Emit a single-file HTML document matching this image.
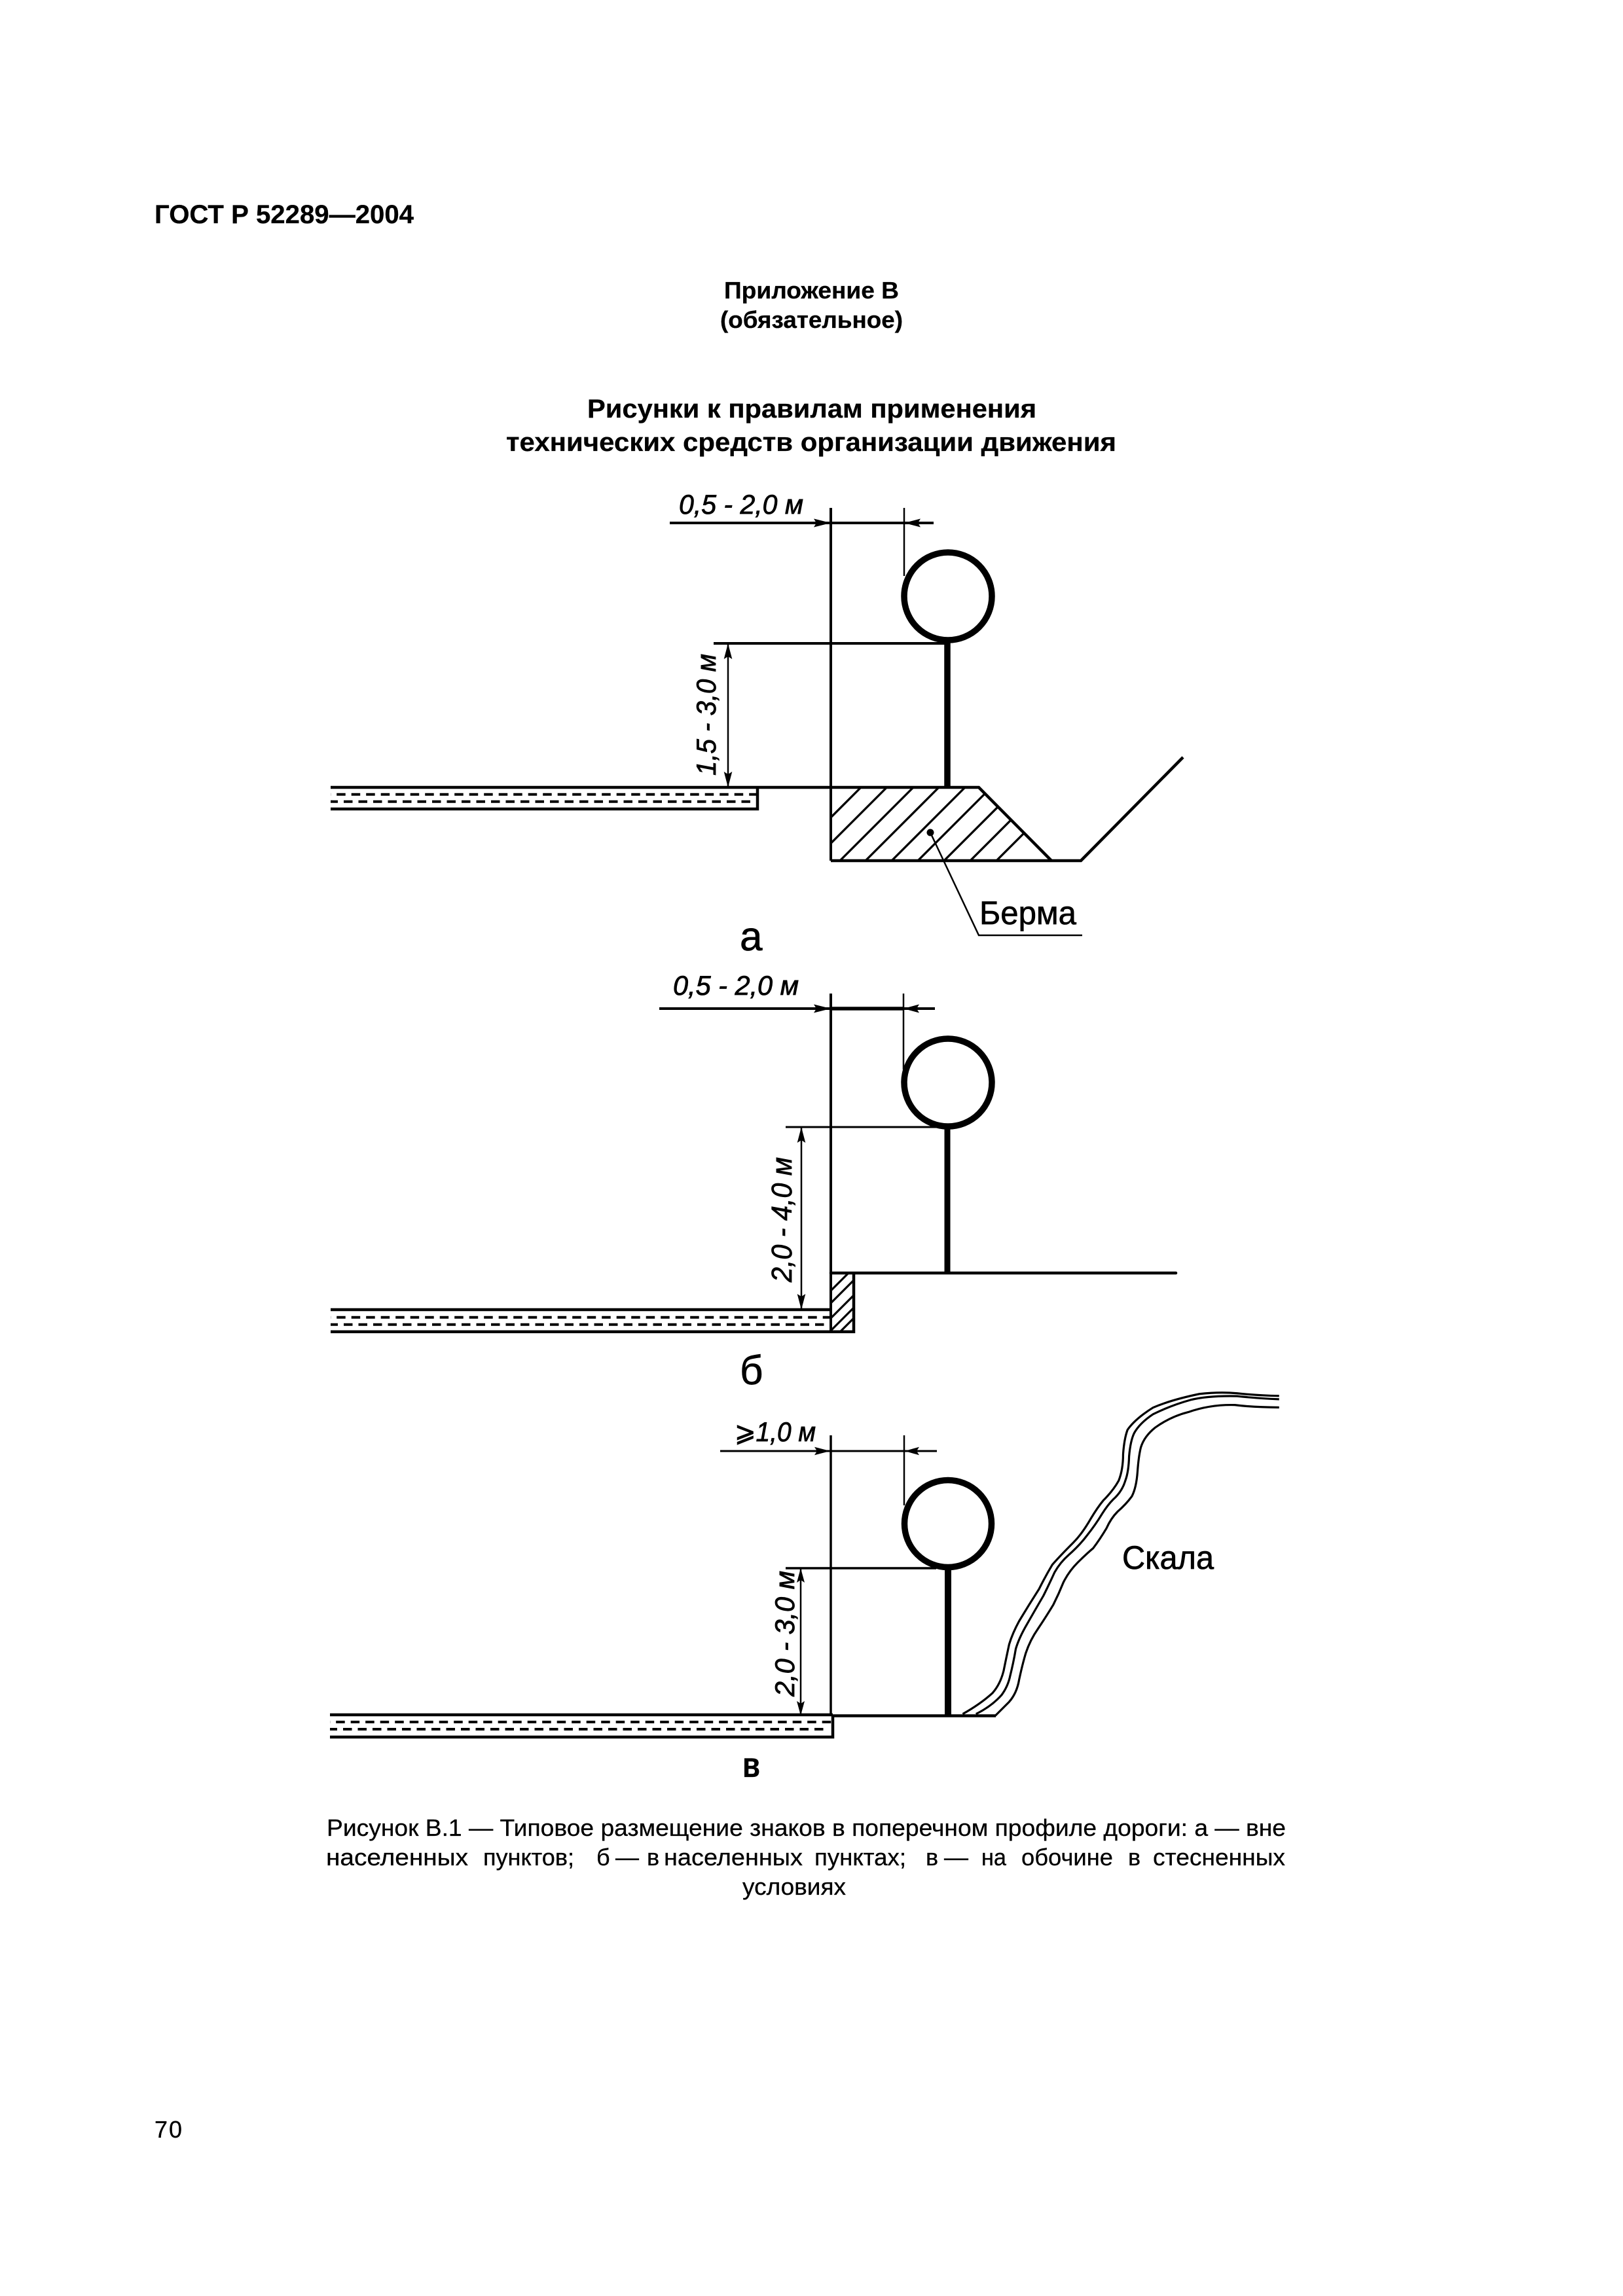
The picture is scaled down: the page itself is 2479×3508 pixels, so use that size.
<!DOCTYPE html>
<html lang="ru">
<head>
<meta charset="utf-8">
<title>ГОСТ Р 52289—2004</title>
<style>
html,body{margin:0;padding:0;background:#fff;}
svg{display:block;}
text{font-family:"Liberation Sans","DejaVu Sans",sans-serif;fill:#000;stroke:#000;stroke-width:.3px;}
.b{font-weight:bold;}
.i{font-style:italic;font-size:42px;stroke-width:.8px;}
.l{stroke-width:.7px;}
.n{font-size:36px;}
</style>
</head>
<body>
<svg width="2479" height="3508" viewBox="0 0 2479 3508" xmlns="http://www.w3.org/2000/svg">
<defs>
<clipPath id="berm"><polygon points="1269,1203 1495,1203 1606,1315 1269,1315"/></clipPath>
<clipPath id="curb"><rect x="1269" y="1945" width="33" height="90"/></clipPath>
</defs>
<rect width="2479" height="3508" fill="#fff"/>

<!-- Header text -->
<text class="b" x="236" y="341" font-size="40" textLength="396" lengthAdjust="spacingAndGlyphs">ГОСТ Р 52289—2004</text>
<text class="b" x="1106" y="456" font-size="36" textLength="267" lengthAdjust="spacingAndGlyphs">Приложение В</text>
<text class="b" x="1100" y="501" font-size="36" textLength="279" lengthAdjust="spacingAndGlyphs">(обязательное)</text>
<text class="b" x="897" y="638" font-size="40" textLength="686" lengthAdjust="spacingAndGlyphs">Рисунки к правилам применения</text>
<text class="b" x="773" y="689" font-size="40" textLength="932" lengthAdjust="spacingAndGlyphs">технических средств организации движения</text>

<!-- Diagram a -->
<g stroke="#000" fill="none">
  <path d="M1269 776V1315" stroke-width="4"/>
  <path d="M1381 776V880" stroke-width="2.5"/>
  <path d="M1023 799H1426" stroke-width="4"/>
  <circle cx="1448" cy="911" r="67" stroke-width="9.5"/>
  <path d="M1447 980V1203" stroke-width="9.5"/>
  <path d="M1090 983H1447" stroke-width="4"/>
  <path d="M1112 983V1203" stroke-width="2.5"/>
  <path d="M505 1203H1495L1606 1315" stroke-width="4.5"/>
  <path d="M505 1236H1157V1203" stroke-width="4.5"/>
  <path d="M505 1213.7H1155" stroke-width="4" stroke-dasharray="13.5 9" stroke-dashoffset="13.3"/>
  <path d="M505 1224.7H1148" stroke-width="4" stroke-dasharray="13.5 9" stroke-dashoffset="2.5"/>
  <path d="M1269 1315H1651L1807 1157" stroke-width="4.5"/>
  <g clip-path="url(#berm)" stroke-width="3.3">
    <path d="M1315 1203L1171 1347M1354.5 1203L1210.5 1347M1395 1203L1251 1347M1434 1203L1290 1347M1474 1203L1330 1347M1514 1203L1370 1347M1554 1203L1410 1347M1594 1203L1450 1347M1634 1203L1490 1347"/>
  </g>
  <path d="M1421 1272L1495 1429H1653" stroke-width="2.5"/>
</g>
<circle cx="1421" cy="1272" r="5.5" fill="#000"/>
<path d="M1269 799l-26-6.5 4 6.5-4 6.5zM1381 799l25-6.5-4 6.5 4 6.5zM1112 983l-6.3 24 6.3-4 6.3 4zM1112 1203l-6.3-24 6.3 4 6.3-4z" fill="#000"/>
<text class="i" x="1037" y="785" textLength="190" lengthAdjust="spacingAndGlyphs">0,5 - 2,0 м</text>
<text class="i" transform="translate(1093 1185) rotate(-90)" textLength="186" lengthAdjust="spacingAndGlyphs">1,5 - 3,0 м</text>
<text class="l" x="1496" y="1412" font-size="50" textLength="148" lengthAdjust="spacingAndGlyphs">Берма</text>
<text class="l" x="1130" y="1452" font-size="62">а</text>

<!-- Diagram б -->
<g stroke="#000" fill="none">
  <path d="M1269 1518V2035" stroke-width="4"/>
  <path d="M1380 1518V1634" stroke-width="2.5"/>
  <path d="M1007 1541H1428" stroke-width="4"/>
  <path d="M1269 1541H1380" stroke-width="5.5"/>
  <circle cx="1448" cy="1654" r="67" stroke-width="9.5"/>
  <path d="M1447 1722V1945" stroke-width="9"/>
  <path d="M1200 1722H1430" stroke-width="3"/>
  <path d="M1224 1722V2001" stroke-width="2.5"/>
  <path d="M1269 1945H1796" stroke-width="4.5" stroke-linecap="round"/>
  <path d="M505 2001H1269" stroke-width="4.5"/>
  <path d="M505 2034.7H1304V1945" stroke-width="4.5"/>
  <path d="M505 2012.7H1268" stroke-width="4" stroke-dasharray="13.5 9" stroke-dashoffset="13.3"/>
  <path d="M505 2023.7H1259" stroke-width="4" stroke-dasharray="13.5 9" stroke-dashoffset="2.5"/>
  <g clip-path="url(#curb)" stroke-width="3.2">
    <path d="M1310 1931L1260 1981M1310 1950L1260 2000M1310 1973L1260 2023M1310 1992L1260 2042M1310 2008L1260 2058"/>
  </g>
</g>
<path d="M1269 1541l-26-6.5 4 6.5-4 6.5zM1380 1541l24-6.5-4 6.5 4 6.5zM1224 1722l-6.3 24 6.3-4 6.3 4zM1224 2001l-6.3-24 6.3 4 6.3-4z" fill="#000"/>
<text class="i" x="1028" y="1520" textLength="192" lengthAdjust="spacingAndGlyphs">0,5 - 2,0 м</text>
<text class="i" transform="translate(1209 1959) rotate(-90)" textLength="191" lengthAdjust="spacingAndGlyphs" style="font-size:44px">2,0 - 4,0 м</text>
<text class="l" x="1130" y="2115" font-size="62">б</text>

<!-- Diagram в -->
<g stroke="#000" fill="none">
  <path d="M1269 2193V2620" stroke-width="3.5"/>
  <path d="M1381 2193V2300" stroke-width="2.5"/>
  <path d="M1100 2217H1431" stroke-width="3"/>
  <circle cx="1448" cy="2328" r="66.5" stroke-width="9.5"/>
  <path d="M1448 2398V2621" stroke-width="10"/>
  <path d="M1200 2396H1430" stroke-width="3.5"/>
  <path d="M1223 2396V2621" stroke-width="2.5"/>
  <path d="M504 2620H1272M1272 2621.5H1521" stroke-width="4.5"/>
  <path d="M504 2654H1272V2620" stroke-width="4.5"/>
  <path d="M504 2631H1270" stroke-width="4" stroke-dasharray="13.5 9" stroke-dashoffset="13.3"/>
  <path d="M504 2642H1262" stroke-width="4" stroke-dasharray="13.5 9" stroke-dashoffset="2.5"/>
  <g transform="translate(1440 2100) scale(.338)" stroke-width="9.5">
    <path d="M237,1543 L300,1480 Q335,1440 345,1380 Q360,1310 375,1260 Q395,1200 430,1150 Q470,1090 500,1040 Q525,990 545,940 Q570,890 610,850 Q650,810 680,785 Q710,745 740,695 Q760,650 790,620 Q830,585 855,550 Q875,510 880,440 Q885,370 895,330 Q910,280 960,240 Q1030,190 1110,170 Q1210,135 1320,138 Q1400,148 1520,149"/>
    <path d="M150,1535 Q220,1500 265,1450 Q295,1410 305,1360 Q320,1300 330,1240 Q345,1190 380,1130 Q420,1060 455,1000 Q480,950 505,895 Q530,850 570,815 Q620,770 650,730 Q690,680 720,630 Q745,590 770,565 Q810,530 825,480 Q840,440 842,370 Q848,300 865,265 Q890,220 950,180 Q1030,140 1120,115 Q1200,95 1330,98 Q1420,108 1520,112"/>
    <path d="M90,1535 Q170,1490 225,1440 Q260,1400 275,1340 Q285,1290 300,1220 Q315,1170 345,1115 Q390,1040 435,970 Q465,910 495,860 Q530,820 590,760 Q630,720 670,650 Q700,600 725,570 Q770,525 795,480 Q815,430 815,360 Q820,290 835,250 Q870,200 950,150 Q1030,115 1160,88 Q1250,78 1330,85 Q1420,95 1520,97"/>
  </g>
</g>
<path d="M1268 2217l-24-6.3 4 6.3-4 6.3zM1382 2217l22-6.3-4 6.3 4 6.3zM1223 2396l-6 22 6-4 6 4zM1223 2621l-6-22 6 4 6-4z" fill="#000"/>
<text class="i" x="1122" y="2202" textLength="124" lengthAdjust="spacingAndGlyphs">⩾1,0 м</text>
<text class="i" transform="translate(1213 2592) rotate(-90)" textLength="192" lengthAdjust="spacingAndGlyphs">2,0 - 3,0 м</text>
<text class="l" x="1714" y="2397" font-size="50" textLength="140" lengthAdjust="spacingAndGlyphs">Скала</text>
<text class="b" x="1134" y="2715" font-size="54" textLength="27" lengthAdjust="spacingAndGlyphs">в</text>

<!-- Caption -->
<text class="n" x="499" y="2805" textLength="1465" lengthAdjust="spacingAndGlyphs">Рисунок В.1 — Типовое размещение знаков в поперечном профиле дороги: а — вне</text>
<text class="n" x="498" y="2850" textLength="217" lengthAdjust="spacingAndGlyphs">населенных</text>
<text class="n" x="738" y="2850" textLength="139" lengthAdjust="spacingAndGlyphs">пунктов;</text>
<text class="n" x="911" y="2850">б</text>
<text class="n" x="940" y="2850" textLength="36" lengthAdjust="spacingAndGlyphs">—</text>
<text class="n" x="988" y="2850">в</text>
<text class="n" x="1014" y="2850" textLength="212" lengthAdjust="spacingAndGlyphs">населенных</text>
<text class="n" x="1244" y="2850" textLength="140" lengthAdjust="spacingAndGlyphs">пунктах;</text>
<text class="n" x="1414" y="2850">в</text>
<text class="n" x="1442" y="2850" textLength="37" lengthAdjust="spacingAndGlyphs">—</text>
<text class="n" x="1499" y="2850" textLength="38" lengthAdjust="spacingAndGlyphs">на</text>
<text class="n" x="1560" y="2850" textLength="140" lengthAdjust="spacingAndGlyphs">обочине</text>
<text class="n" x="1723" y="2850">в</text>
<text class="n" x="1761" y="2850" textLength="202" lengthAdjust="spacingAndGlyphs">стесненных</text>
<text class="n" x="1134" y="2895" textLength="158" lengthAdjust="spacingAndGlyphs">условиях</text>

<!-- Page number -->
<text class="n" x="236" y="3266" textLength="42">70</text>
</svg>
</body>
</html>
